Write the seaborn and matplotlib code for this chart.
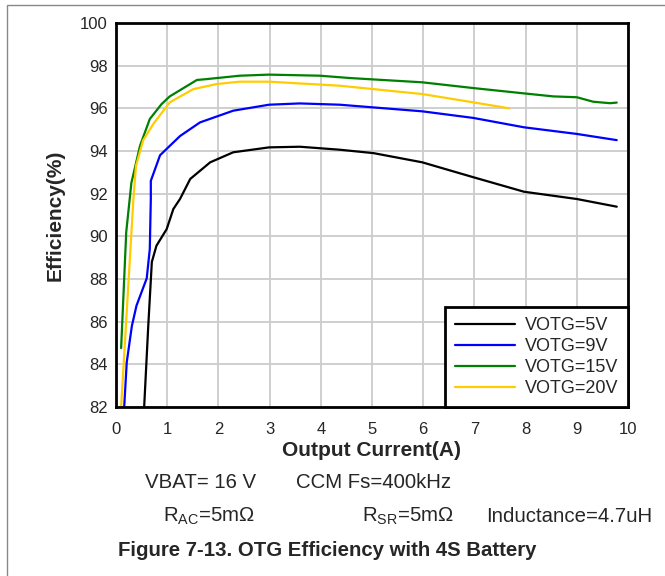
import matplotlib.pyplot as plt
import matplotlib.patches as mpatches
import pandas as pd
import seaborn as sns

# values
x_5v = [0.55, 0.63, 0.70, 0.79, 0.99, 1.12, 1.25, 1.45, 1.84, 2.29, 2.99, 3.59, 4.37, 5.03, 5.98, 6.98, 7.97, 9.0, 9.78]
y_5v = [82.0, 85.8, 88.8, 89.56, 90.34, 91.28, 91.75, 92.69, 93.47, 93.94, 94.17, 94.2, 94.06, 93.9, 93.47, 92.77, 92.09, 91.75, 91.39]

x_9v = [0.16, 0.21, 0.31, 0.40, 0.60, 0.66, 0.68, 0.68, 0.86, 1.25, 1.64, 2.29, 2.99, 3.59, 4.37, 5.98, 6.98, 7.97, 9.0, 9.78]
y_9v = [82.0, 84.1, 85.8, 86.75, 88.03, 89.4, 91.75, 92.6, 93.8, 94.7, 95.34, 95.89, 96.17, 96.23, 96.17, 95.86, 95.55, 95.11, 94.8, 94.51]

x_15v = [0.10, 0.20, 0.30, 0.47, 0.66, 0.89, 1.05, 1.58, 1.77, 2.42, 2.99, 3.98, 4.57, 5.98, 6.98, 7.97, 8.54, 9.0, 9.32, 9.65, 9.78]
y_15v = [84.76, 90.2, 92.5, 94.25, 95.5, 96.2, 96.56, 97.33, 97.37, 97.53, 97.58, 97.53, 97.42, 97.22, 96.95, 96.7, 96.56, 96.52, 96.31, 96.24, 96.27]

x_20v = [0.10, 0.34, 0.39, 0.53, 0.73, 1.05, 1.51, 1.97, 2.42, 2.99, 4.37, 5.98, 6.98, 7.68]
y_20v = [82.0, 91.75, 93.3, 94.5, 95.27, 96.28, 96.9, 97.14, 97.25, 97.25, 97.06, 96.67, 96.28, 96.0]

labels = ["VOTG=5V", "VOTG=9V", "VOTG=15V", "VOTG=20V"]
colors = ["#000000", "#0000FF", "#008000", "#FFCC00"]

frames = []
for lab, xs, ys in zip(labels, [x_5v, x_9v, x_15v, x_20v], [y_5v, y_9v, y_15v, y_20v]):
    frames.append(pd.DataFrame({"current": xs, "eff": ys, "series": lab}))
df = pd.concat(frames, ignore_index=True)

sns.set_theme(style="whitegrid")
sns.set_style({"grid.color": "#CCCCCC", "axes.edgecolor": "black"})
plt.rcParams["font.family"] = ["Liberation Sans", "DejaVu Sans"]

fig = plt.figure(figsize=(6.65, 5.76), dpi=100)
ax = fig.add_axes([116 / 665, 1 - 407 / 576, 512 / 665, 384 / 576])

# one call per series, sort=False keeps the near-vertical rises in order
for lab, col in zip(labels, colors):
    sub = df[df["series"] == lab]
    sns.lineplot(data=sub, x="current", y="eff", color=col, sort=False,
                 estimator=None, linewidth=1.6, ax=ax, label=lab)

ax.set_xlim(0, 10)
ax.set_ylim(82, 100)
ax.set_xticks(range(0, 11))
ax.set_yticks(range(82, 101, 2))
ax.grid(True, color="#CCCCCC", linewidth=1.3)
for s in ax.spines.values():
    s.set_color("black")
    s.set_linewidth(2)
ax.tick_params(labelsize=12, length=0)
ax.tick_params(axis="x", pad=11)
ax.tick_params(axis="y", pad=6)

ax.set_xlabel("Output Current(A)", fontsize=15, fontweight="bold")
ax.set_ylabel("Efficiency(%)", fontsize=15, fontweight="bold")
ax.xaxis.set_label_coords(0.5, -0.088)
ax.yaxis.set_label_coords(-0.10, 0.5)

leg = ax.legend(loc="lower right", fontsize=13, frameon=True, fancybox=False,
                borderaxespad=0, handlelength=3.3, labelspacing=0.22,
                borderpad=0.55, handletextpad=0.55)
leg.get_frame().set_edgecolor("black")
leg.get_frame().set_linewidth(2)
leg.get_frame().set_alpha(1)

fs = 14.7
fig.text(145 / 665, 1 - 483 / 576, "VBAT= 16 V", fontsize=fs, va="center")
fig.text(296 / 665, 1 - 483 / 576, "CCM Fs=400kHz", fontsize=fs, va="center")
fig.text(163 / 665, 1 - 516 / 576, "R$_{\\mathregular{AC}}$=5mΩ", fontsize=fs, va="center")
fig.text(362 / 665, 1 - 516 / 576, "R$_{\\mathregular{SR}}$=5mΩ", fontsize=fs, va="center")
fig.text(486 / 665, 1 - 516 / 576, "Inductance=4.7uH", fontsize=fs, va="center")
fig.text(118 / 665, 1 - 550 / 576, "Figure 7-13. OTG Efficiency with 4S Battery",
         fontsize=fs, fontweight="bold", va="center")

fig.patches.append(mpatches.Rectangle((7 / 665, -0.1), 1.2, 1.1 - 5 / 576, transform=fig.transFigure,
                                      fill=False, edgecolor="#888888", linewidth=1))

fig.savefig("out.png")
